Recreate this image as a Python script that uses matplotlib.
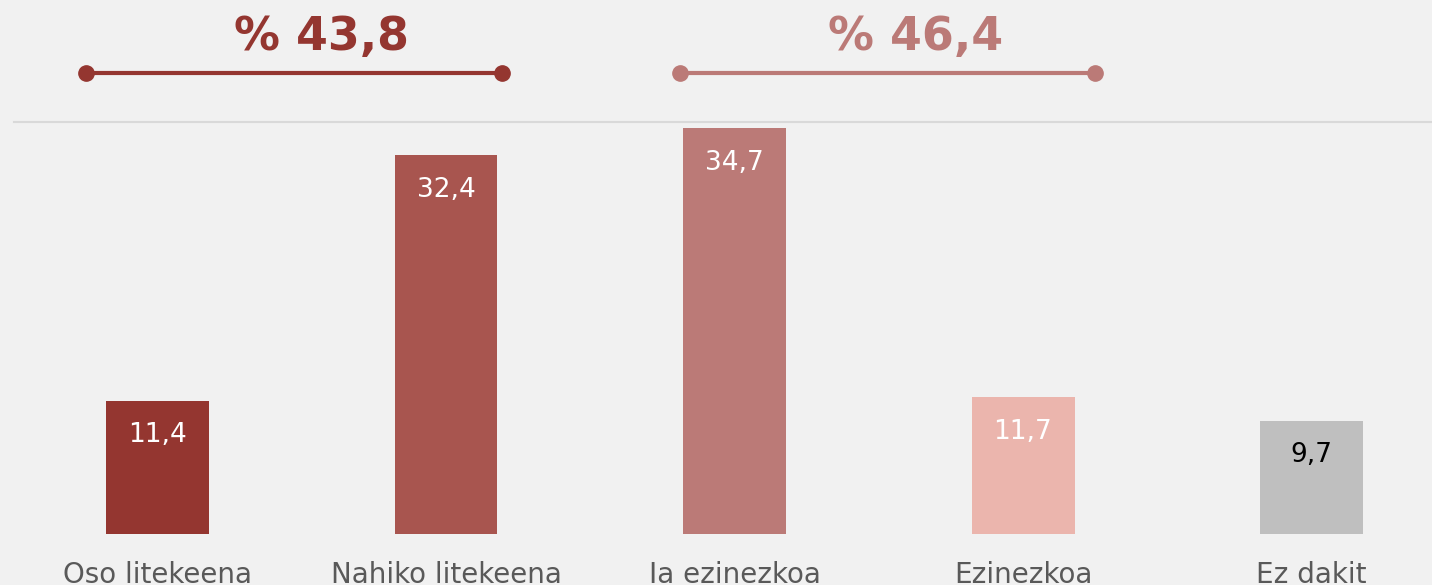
import matplotlib
matplotlib.use("Agg")
import matplotlib.pyplot as plt

categories = ["Oso litekeena", "Nahiko litekeena", "Ia ezinezkoa", "Ezinezkoa", "Ez dakit"]
values = [11.4, 32.4, 34.7, 11.7, 9.7]
value_labels = ["11,4", "32,4", "34,7", "11,7", "9,7"]
bar_colors = ["#943630", "#a8554f", "#bb7a77", "#ebb5ad", "#bfbfbf"]
label_colors = ["white", "white", "white", "white", "black"]

group_labels = ["% 43,8", "% 46,4"]
group_colors = ["#943630", "#bb7a77"]
group_spans = [(-0.248, 1.194), (1.81, 3.25)]
group_label_x = [0.567, 2.626]

BG = "#f1f1f1"
W, H = 1432, 585
fig = plt.figure(figsize=(W / 100, H / 100), dpi=100, facecolor=BG)
ax = fig.add_axes([0, 0, 1, 1])
ax.set_facecolor(BG)

spacing = 288.5
x0px = 157.5
ppu = 11.7
base = 51
ax.set_xlim(-x0px / spacing, (W - x0px) / spacing)
ax.set_ylim(-base / ppu, (H - base) / ppu)
for s in ax.spines.values():
    s.set_visible(False)
ax.set_xticks([])
ax.set_yticks([])

xs = list(range(len(categories)))
ax.bar(xs, values, width=103 / spacing, color=bar_colors, zorder=2)

for x, v, lab, c in zip(xs, values, value_labels, label_colors):
    ax.annotate(lab, (x, v), xytext=(0, -25), textcoords="offset points",
                ha="center", va="center", fontsize=19, color=c, zorder=3)

for x, cat in zip(xs, categories):
    ax.text(x, -2.35, cat, ha="center", va="top", fontsize=20, color="#595959")

# separator line
ax.axhline((H - 122 - base) / ppu, xmin=14 / W, xmax=1, color="#d9d9d9", lw=1.5)

# group brackets
yb = (H - 73 - base) / ppu
yl = (H - 38 - base) / ppu
for (a, b), lab, c, lx in zip(group_spans, group_labels, group_colors, group_label_x):
    ax.plot([a, b], [yb, yb], color=c, lw=3, solid_capstyle="butt")
    ax.plot([a, b], [yb, yb], "o", color=c, ms=11)
    ax.text(lx, yl, lab, ha="center", va="center", fontsize=33,
            fontweight="bold", color=c)

fig.savefig("out.png", dpi=100, facecolor=BG)
